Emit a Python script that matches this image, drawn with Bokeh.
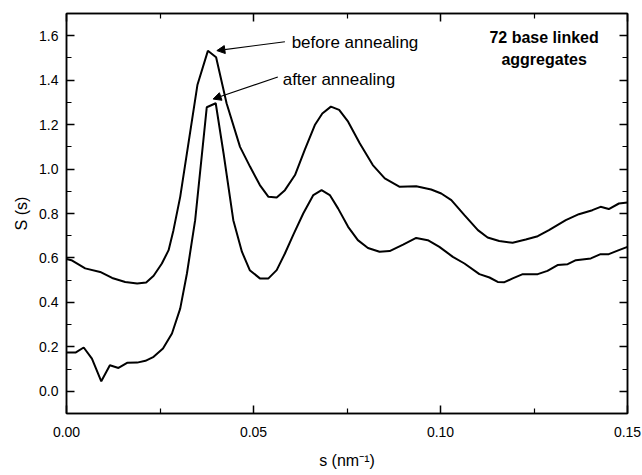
from bokeh.plotting import figure
from bokeh.models import (Range1d, LinearAxis, FixedTicker, NumeralTickFormatter,
                          CustomJSTickFormatter, Label, Arrow, NormalHead)
from bokeh.embed import file_html
from bokeh.resources import INLINE

# ---- data ----
s_before = [0.0000, 0.0013, 0.0050, 0.0090, 0.0122, 0.0157, 0.0189, 0.0213, 0.0233, 0.0255,
            0.0273, 0.0286, 0.0304, 0.0350, 0.0378, 0.0400, 0.0428, 0.0464, 0.0491, 0.0517,
            0.0540, 0.0562, 0.0584, 0.0611, 0.0637, 0.0664, 0.0684, 0.0707, 0.0729, 0.0753,
            0.0784, 0.0819, 0.0851, 0.0891, 0.0935, 0.0975, 0.1002, 0.1029, 0.1064, 0.1100,
            0.1126, 0.1157, 0.1193, 0.1228, 0.1260, 0.1290, 0.1335, 0.1370, 0.1406, 0.1428,
            0.1450, 0.1477, 0.1500]
S_before = [0.595, 0.590, 0.553, 0.537, 0.510, 0.492, 0.485, 0.490, 0.520, 0.575,
            0.635, 0.725, 0.875, 1.378, 1.532, 1.503, 1.296, 1.100, 1.010, 0.928,
            0.875, 0.872, 0.905, 0.973, 1.086, 1.198, 1.250, 1.281, 1.266, 1.213,
            1.116, 1.018, 0.958, 0.920, 0.923, 0.908, 0.890, 0.860, 0.793, 0.725,
            0.692, 0.676, 0.668, 0.683, 0.698, 0.725, 0.770, 0.797, 0.815, 0.830,
            0.820, 0.845, 0.850]

s_after = [0.0000, 0.0024, 0.0046, 0.0068, 0.0093, 0.0116, 0.0139, 0.0162, 0.0189, 0.0211,
           0.0233, 0.0258, 0.0282, 0.0304, 0.0322, 0.0344, 0.0375, 0.0399, 0.0420, 0.0446,
           0.0469, 0.0490, 0.0517, 0.0540, 0.0562, 0.0584, 0.0606, 0.0633, 0.0660, 0.0682,
           0.0704, 0.0726, 0.0753, 0.0779, 0.0806, 0.0837, 0.0864, 0.0900, 0.0935, 0.0966,
           0.0997, 0.1033, 0.1064, 0.1104, 0.1131, 0.1153, 0.1171, 0.1193, 0.1220, 0.1260,
           0.1286, 0.1313, 0.1340, 0.1362, 0.1402, 0.1428, 0.1450, 0.1477, 0.1500]
S_after = [0.174, 0.174, 0.197, 0.147, 0.045, 0.117, 0.105, 0.128, 0.129, 0.137,
           0.155, 0.192, 0.260, 0.372, 0.530, 0.770, 1.278, 1.296, 1.070, 0.770,
           0.628, 0.545, 0.508, 0.508, 0.545, 0.620, 0.703, 0.800, 0.883, 0.905,
           0.883, 0.823, 0.740, 0.680, 0.645, 0.628, 0.631, 0.660, 0.690, 0.680,
           0.650, 0.605, 0.575, 0.527, 0.512, 0.492, 0.491, 0.508, 0.527, 0.527,
           0.542, 0.568, 0.572, 0.590, 0.598, 0.617, 0.617, 0.635, 0.650]

x_ticks = [0.0, 0.05, 0.10, 0.15]
x_minor = [0.025, 0.075, 0.125]
y_ticks = [0.0, 0.2, 0.4, 0.6, 0.8, 1.0, 1.2, 1.4, 1.6]
y_minor = [-0.1, 0.1, 0.3, 0.5, 0.7, 0.9, 1.1, 1.3, 1.5, 1.7]

x_label = "s (nm\u207b\u00b9)"
y_label = "S (s)"
label_before = "before annealing"
label_after = "after annealing"
title_lines = ["72 base linked", "aggregates"]

FONT = "Liberation Sans"

p = figure(width=642, height=475, output_backend="svg", toolbar_location=None,
           x_range=Range1d(0, 0.15), y_range=Range1d(-0.1, 1.7),
           min_border_left=66, min_border_right=15, min_border_top=13, min_border_bottom=62,
           x_axis_label=x_label, y_axis_label=y_label)
p.grid.visible = False
p.outline_line_color = "black"
p.outline_line_width = 1.5
p.background_fill_color = "white"
p.border_fill_color = "white"

def style(ax, labels=True):
    ax.axis_line_color = "black"
    ax.axis_line_width = 1.5
    ax.major_tick_line_color = "black"
    ax.minor_tick_line_color = "black"
    ax.major_tick_line_width = 1.5
    ax.minor_tick_line_width = 1.2
    ax.major_tick_in = 8
    ax.major_tick_out = 0
    ax.minor_tick_in = 5
    ax.minor_tick_out = 0
    ax.major_label_text_font = FONT
    ax.major_label_text_color = "black"
    ax.major_label_text_font_size = "14px"
    ax.axis_label_text_font = FONT
    ax.axis_label_text_color = "black"
    ax.axis_label_text_font_style = "normal"
    ax.axis_label_text_font_size = "16px"
    if not labels:
        ax.formatter = CustomJSTickFormatter(code="return ''")
        ax.major_label_standoff = 0

xa = p.xaxis[0]
xa.ticker = FixedTicker(ticks=x_ticks, minor_ticks=x_minor)
xa.formatter = NumeralTickFormatter(format="0.00")
style(xa)
xa.major_label_standoff = 13
xa.axis_label_standoff = 12

ya = p.yaxis[0]
ya.ticker = FixedTicker(ticks=y_ticks, minor_ticks=y_minor)
ya.formatter = NumeralTickFormatter(format="0.0")
style(ya)
ya.major_label_standoff = 8
ya.axis_label_standoff = 6

top = LinearAxis(ticker=FixedTicker(ticks=x_ticks, minor_ticks=x_minor))
style(top, labels=False)
p.add_layout(top, "above")
right = LinearAxis(ticker=FixedTicker(ticks=y_ticks, minor_ticks=y_minor))
style(right, labels=False)
p.add_layout(right, "right")

p.line(s_before, S_before, line_color="black", line_width=2)
p.line(s_after, S_after, line_color="black", line_width=2)

# annotations
p.add_layout(Arrow(end=NormalHead(size=8, fill_color="black", line_color="black"),
                   x_start=0.0584, y_start=1.573, x_end=0.0402, y_end=1.533,
                   line_color="black", line_width=1.2))
p.add_layout(Arrow(end=NormalHead(size=8, fill_color="black", line_color="black"),
                   x_start=0.0565, y_start=1.414, x_end=0.0392, y_end=1.315,
                   line_color="black", line_width=1.2))

p.add_layout(Label(x=0.0602, y=1.568, text=label_before, text_baseline="middle",
                   text_font=FONT, text_font_size="17px", text_color="black"))
p.add_layout(Label(x=0.0578, y=1.401, text=label_after, text_baseline="middle",
                   text_font=FONT, text_font_size="17px", text_color="black"))
p.add_layout(Label(x=0.1277, y=1.590, text=title_lines[0], text_baseline="middle",
                   text_align="center", text_font=FONT, text_font_size="16px",
                   text_font_style="bold", text_color="black"))
p.add_layout(Label(x=0.1277, y=1.491, text=title_lines[1], text_baseline="middle",
                   text_align="center", text_font=FONT, text_font_size="16px",
                   text_font_style="bold", text_color="black"))

open("out.html", "w").write(file_html(p, INLINE))
